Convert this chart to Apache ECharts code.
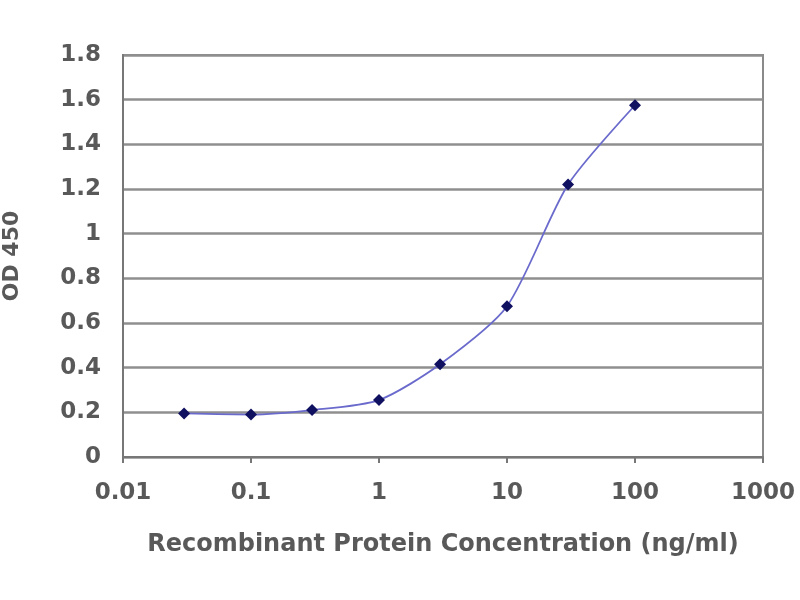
<!DOCTYPE html>
<html><head><meta charset="utf-8">
<script src="https://cdn.jsdelivr.net/npm/echarts@6/dist/echarts.min.js"></script>
<style>html,body{margin:0;padding:0;background:#fff}#c{width:800px;height:600px}</style>
</head><body><div id="c"></div>
<script>
const concentrations = [0.03, 0.1, 0.3, 1, 3, 10, 30, 100];
const od450 = [0.195, 0.19, 0.21, 0.255, 0.415, 0.675, 1.22, 1.575];
const xTitle = 'Recombinant Protein Concentration (ng/ml)';
const yTitle = 'OD 450';

const chart = echarts.init(document.getElementById('c'), null, {renderer:'canvas'});
const font = 'DejaVu Sans, Verdana, sans-serif';
const txt = '#595959';
chart.setOption({
  animation:false,
  grid:{left:123,right:37,top:55,bottom:143,containLabel:false,outerBoundsMode:'none',
    show:true,borderColor:'#8a8a8a',borderWidth:2,backgroundColor:'#fff'},
  xAxis:{type:'log',logBase:10,min:0.01,max:1000,
    name:xTitle,nameLocation:'middle',nameGap:76,
    nameTextStyle:{fontFamily:font,fontSize:24,fontWeight:'bold',color:txt},
    axisLine:{show:true,lineStyle:{color:'#777',width:2}},
    axisTick:{show:true,length:6,lineStyle:{color:'#777',width:2}},
    axisLabel:{fontFamily:font,fontSize:23,fontWeight:'bold',color:txt,margin:25,
      formatter:v=>String(+v.toPrecision(3))},
    splitLine:{show:false},minorTick:{show:false}},
  yAxis:{type:'value',min:0,max:1.8,interval:0.2,
    name:yTitle,nameLocation:'middle',nameGap:100,nameRotate:90,
    nameTextStyle:{fontFamily:font,fontSize:22,fontWeight:'bold',color:txt},
    axisLine:{show:true,lineStyle:{color:'#777',width:2}},
    axisTick:{show:false},
    axisLabel:{fontFamily:font,fontSize:23,fontWeight:'bold',color:txt,margin:22,
      formatter:v=>String(+v.toFixed(1))},
    splitLine:{show:true,lineStyle:{color:'#8f8f8f',width:2.5}}},
  series:[{type:'line',data:concentrations.map((c,i)=>[c,od450[i]]),
    smooth:0.25,
    lineStyle:{color:'#6a6acc',width:1.8},
    symbol:'diamond',symbolSize:12,
    itemStyle:{color:'#101060'}}]
});
</script></body></html>
